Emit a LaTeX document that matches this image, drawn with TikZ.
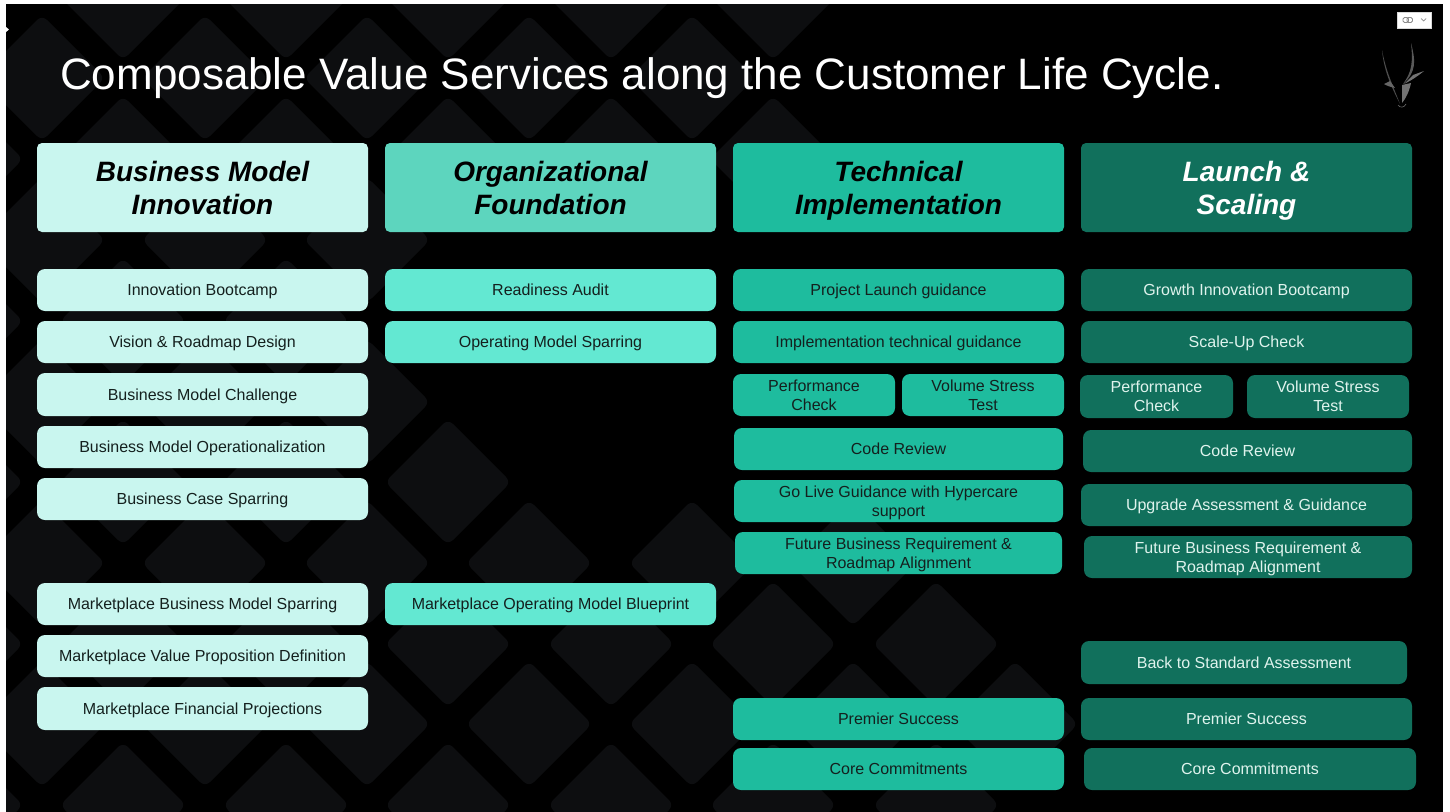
\documentclass[tikz,border=0pt]{standalone}
\usepackage{fontspec}
\setmainfont{Liberation Sans}
\definecolor{bgdia}{HTML}{0D0E10}
\definecolor{cA}{HTML}{C9F6EF}
\definecolor{cBh}{HTML}{5DD5BE}
\definecolor{cB}{HTML}{63E8D2}
\definecolor{cC}{HTML}{1EBC9E}
\definecolor{cD}{HTML}{11705C}
\definecolor{txtD}{HTML}{DFF3ED}
\definecolor{txtL}{HTML}{14201E}
\tikzset{
  dia/.style={fill=bgdia,rounded corners=7pt},
  svc/.style={rectangle,rounded corners=8pt,inner sep=0pt,align=center,font=\fontsize{16}{19}\selectfont},
  hdr/.style={rectangle,rounded corners=5pt,inner sep=0pt,align=center,font=\fontsize{28}{33}\selectfont\bfseries\itshape},
  colA/.style={fill=cA,text=txtL},
  colB/.style={fill=cB,text=txtL},
  colC/.style={fill=cC,text=txtL},
  colD/.style={fill=cD,text=txtD}
}
\newcommand{\st}{\rule[-3.5pt]{0pt}{18pt}}
\newcommand{\hs}{\rule[-6pt]{0pt}{32pt}}
\newcommand{\bx}[7]{%
  \pgfmathsetmacro{\bxw}{#4-#2}\pgfmathsetmacro{\bxh}{#5-#3}%
  \pgfmathsetmacro{\bxx}{(#4+#2)/2}\pgfmathsetmacro{\bxy}{(#5+#3)/2}%
  \node[#6,minimum width=\bxw pt,minimum height=\bxh pt] (#1) at (\bxx,\bxy) {#7};}
\newcommand{\dm}[2]{\fill[dia] (#1-63,#2) -- (#1,#2-63) -- (#1+63,#2) -- (#1,#2+63) -- cycle;}
\begin{document}
\begin{tikzpicture}[x=1pt,y=-1pt]
\useasboundingbox (0,0) rectangle (1450,811);
\fill[white] (0,0) rectangle (1450,811);
\begin{scope}
\clip (6,4) rectangle (1443,816);
\fill[black] (6,4) rectangle (1443,816);
\foreach \x in {123,286,448,611,773} {\dm{\x}{-3}}
\foreach \x in {42,205,367,529,692} {\dm{\x}{78}}
\foreach \x in {-40,123,286,448,611,773} {\dm{\x}{159}}
\foreach \x in {42,205,367} {\dm{\x}{240}}
\foreach \x in {-40,123,286} {\dm{\x}{321}}
\foreach \x in {42,205,367} {\dm{\x}{402}}
\foreach \x in {-40,123,286,448} {\dm{\x}{482}}
\foreach \x in {42,205,367,529,692,853} {\dm{\x}{563}}
\foreach \x in {-40,123,286,448,611,773,936} {\dm{\x}{644}}
\foreach \x in {42,205,367,529,692,853,1015} {\dm{\x}{724}}
\foreach \x in {-40,123,286,448,611,773,936} {\dm{\x}{805}}
\end{scope}
\fill[white] (6,27) -- (9,29.5) -- (6,32) -- cycle;
% title
\node[anchor=west,text=white,inner sep=0pt,font=\fontsize{44}{50}\selectfont] (title) at (60,78) {Composable Value Services along the Customer Life Cycle.};
% widget
\node[fill=white,draw=black!15,minimum width=34pt,minimum height=16pt,inner sep=0pt] (widget) at (1414,20) {};
\draw[black!45,line width=.9pt,rounded corners=1.5pt] (1403,17.5) rectangle (1408.5,22.5) (1407,17.5) rectangle (1412.5,22.5);
\draw[black!45,line width=.7pt] (1421,18.5) -- (1423.5,21) -- (1426,18.5);
% logo
\fill[black!70] (1382,50) .. controls (1384,72) and (1392,88) .. (1400,104) .. controls (1394,88) and (1386,72) .. cycle;
\fill[black!65] (1411,43) .. controls (1416,62) and (1416,72) .. (1403,84) .. controls (1412,72) and (1413,62) .. cycle;
\fill[black!55] (1424,71) -- (1413,75) -- (1404,84) .. controls (1412,80) and (1418,76) .. cycle;
\fill[black!60] (1384,84) -- (1390,81) -- (1395,88) .. controls (1391,87) and (1387,86) .. cycle;
\fill[black!55] (1402,85) -- (1411,83) .. controls (1409,92) and (1406,98) .. (1402,103) -- cycle;
\draw[black!60,line width=.6pt] (1398,105) .. controls (1400,108) and (1404,108) .. (1406,104);
% headers
\bx{hA}{37}{143}{368}{232}{hdr,colA,text=black}{\hs Business Model\\\hs Innovation}
\bx{hB}{385}{143}{716}{232}{hdr,fill=cBh,text=black}{\hs Organizational\\\hs Foundation}
\bx{hC}{733}{143}{1064}{232}{hdr,colC,text=black}{\hs Technical\\\hs Implementation}
\bx{hD}{1081}{143}{1412}{232}{hdr,colD,text=white}{\hs Launch \&\\\hs Scaling}
% column A
\bx{a1}{37}{269}{368}{311}{svc,colA}{\st Innovation Bootcamp}
\bx{a2}{37}{321}{368}{363}{svc,colA}{\st Vision \& Roadmap Design}
\bx{a3}{37}{373}{368}{416}{svc,colA}{\st Business Model Challenge}
\bx{a4}{37}{426}{368}{468}{svc,colA}{\st Business Model Operationalization}
\bx{a5}{37}{478}{368}{520}{svc,colA}{\st Business Case Sparring}
\bx{a6}{37}{583}{368}{625}{svc,colA}{\st Marketplace Business Model Sparring}
\bx{a7}{37}{635}{368}{677}{svc,colA}{\st Marketplace Value Proposition Definition}
\bx{a8}{37}{687}{368}{730}{svc,colA}{\st Marketplace Financial Projections}
% column B
\bx{b1}{385}{269}{716}{311}{svc,colB}{\st Readiness Audit}
\bx{b2}{385}{321}{716}{363}{svc,colB}{\st Operating Model Sparring}
\bx{b3}{385}{583}{716}{625}{svc,colB}{\st Marketplace Operating Model Blueprint}
% column C
\bx{c1}{733}{269}{1064}{311}{svc,colC}{\st Project Launch guidance}
\bx{c2}{733}{321}{1064}{363}{svc,colC}{\st Implementation technical guidance}
\bx{c3}{733}{374}{895}{416}{svc,colC}{\st Performance\\\st Check}
\bx{c4}{902}{374}{1064}{416}{svc,colC}{\st Volume Stress\\\st Test}
\bx{c5}{734}{428}{1063}{470}{svc,colC}{\st Code Review}
\bx{c6}{734}{480}{1063}{522}{svc,colC}{\st Go Live Guidance with Hypercare\\\st support}
\bx{c7}{735}{532}{1062}{574}{svc,colC}{\st Future Business Requirement \&\\\st Roadmap Alignment}
\bx{c8}{733}{698}{1064}{740}{svc,colC}{\st Premier Success}
\bx{c9}{733}{748}{1064}{790}{svc,colC}{\st Core Commitments}
% column D
\bx{d1}{1081}{269}{1412}{311}{svc,colD}{\st Growth Innovation Bootcamp}
\bx{d2}{1081}{321}{1412}{363}{svc,colD}{\st Scale-Up Check}
\bx{d3}{1080}{375}{1233}{418}{svc,colD}{\st Performance\\\st Check}
\bx{d4}{1247}{375}{1409}{418}{svc,colD}{\st Volume Stress\\\st Test}
\bx{d5}{1083}{430}{1412}{472}{svc,colD}{\st Code Review}
\bx{d6}{1081}{484}{1412}{526}{svc,colD}{\st Upgrade Assessment \& Guidance}
\bx{d7}{1084}{536}{1412}{578}{svc,colD}{\st Future Business Requirement \&\\\st Roadmap Alignment}
\bx{d8}{1081}{641}{1407}{684}{svc,colD}{\st Back to Standard Assessment}
\bx{d9}{1081}{698}{1412}{740}{svc,colD}{\st Premier Success}
\bx{d10}{1084}{748}{1416}{790}{svc,colD}{\st Core Commitments}
\end{tikzpicture}
\end{document}
